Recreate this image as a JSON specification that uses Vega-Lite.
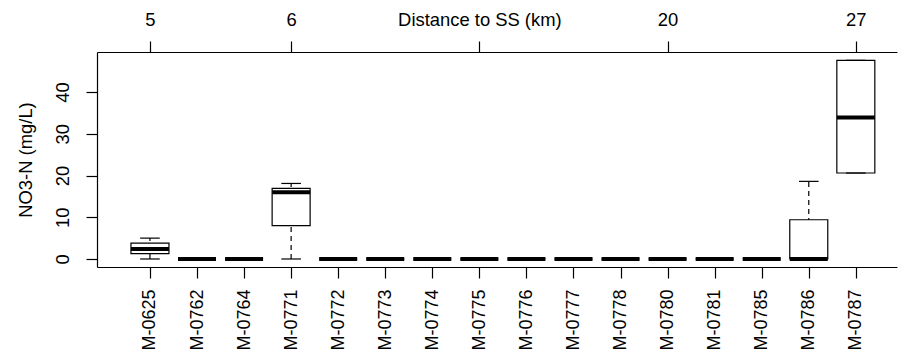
{
  "$schema": "https://vega.github.io/schema/vega-lite/v6.json",
  "width": 800,
  "height": 215,
  "autosize": {"type": "none"},
  "padding": {"left": 97, "top": 52, "right": 1, "bottom": 84},
  "config": {
    "view": {"stroke": null},
    "font": "Liberation Sans",
    "tick": {"opacity": 1},
    "axis": {
      "domainColor": "#000",
      "tickColor": "#000",
      "labelColor": "#000",
      "titleColor": "#000",
      "labelFontSize": 18.4,
      "titleFontSize": 18.4,
      "titleFontWeight": "normal",
      "labelFont": "Liberation Sans",
      "titleFont": "Liberation Sans",
      "tickSize": 11,
      "grid": false,
      "domainWidth": 1.2,
      "tickWidth": 1.2
    }
  },
  "data": {
    "values": [
      {"site": "M-0625", "lo": 0, "q1": 1.3, "med": 2.4, "q3": 3.8, "hi": 5.0},
      {"site": "M-0762", "lo": 0, "q1": 0, "med": 0, "q3": 0, "hi": 0},
      {"site": "M-0764", "lo": 0, "q1": 0, "med": 0, "q3": 0, "hi": 0},
      {"site": "M-0771", "lo": 0, "q1": 8.0, "med": 16.0, "q3": 16.9, "hi": 18.1},
      {"site": "M-0772", "lo": 0, "q1": 0, "med": 0, "q3": 0, "hi": 0},
      {"site": "M-0773", "lo": 0, "q1": 0, "med": 0, "q3": 0, "hi": 0},
      {"site": "M-0774", "lo": 0, "q1": 0, "med": 0, "q3": 0, "hi": 0},
      {"site": "M-0775", "lo": 0, "q1": 0, "med": 0, "q3": 0, "hi": 0},
      {"site": "M-0776", "lo": 0, "q1": 0, "med": 0, "q3": 0, "hi": 0},
      {"site": "M-0777", "lo": 0, "q1": 0, "med": 0, "q3": 0, "hi": 0},
      {"site": "M-0778", "lo": 0, "q1": 0, "med": 0, "q3": 0, "hi": 0},
      {"site": "M-0780", "lo": 0, "q1": 0, "med": 0, "q3": 0, "hi": 0},
      {"site": "M-0781", "lo": 0, "q1": 0, "med": 0, "q3": 0, "hi": 0},
      {"site": "M-0785", "lo": 0, "q1": 0, "med": 0, "q3": 0, "hi": 0},
      {"site": "M-0786", "lo": 0, "q1": 0, "med": 0, "q3": 9.4, "hi": 18.6},
      {"site": "M-0787", "lo": 20.6, "q1": 20.6, "med": 33.9, "q3": 47.6, "hi": 47.6}
    ]
  },
  "encoding": {
    "x": {"field": "site", "type": "nominal", "sort": null, "axis": null,
          "scale": {"type": "point", "padding": 1.016, "align": 0.5626}}
  },
  "layer": [
    {
      "mark": {"type": "rule", "strokeDash": [5, 4], "color": "#000", "strokeWidth": 1.2},
      "encoding": {
        "x": {"field": "site", "type": "nominal", "sort": null,
              "axis": {"orient": "bottom", "title": null, "labelAngle": 270, "labelPadding": 11, "labelFontSize": 18}},
        "y": {"field": "lo", "type": "quantitative", "title": "NO3-N (mg/L)",
              "scale": {"domain": [-1.92, 49.6], "nice": false, "zero": false},
              "axis": {"values": [0, 10, 20, 30, 40], "labelAngle": 270, "labelPadding": 14, "titlePadding": 18}},
        "y2": {"field": "hi"}
      }
    },
    {
      "mark": {"type": "bar", "size": 38, "fill": "#fff", "stroke": "#000", "strokeWidth": 1.2, "opacity": 1},
      "encoding": {
        "x": {"field": "site", "type": "nominal", "sort": null,
              "axis": {"orient": "top", "title": null, "labelAngle": 0, "labelPadding": 12,
                       "values": ["M-0625", "M-0771", "M-0775", "M-0780", "M-0787"],
                       "labelExpr": "datum.value == 'M-0625' ? '5' : datum.value == 'M-0771' ? '6' : datum.value == 'M-0775' ? 'Distance to SS (km)' : datum.value == 'M-0780' ? '20' : '27'"}},
        "y": {"field": "q1", "type": "quantitative", "title": "NO3-N (mg/L)"},
        "y2": {"field": "q3"}
      }
    },
    {
      "mark": {"type": "tick", "size": 19.6, "thickness": 1.2, "color": "#000", "opacity": 1},
      "encoding": {"y": {"field": "lo", "type": "quantitative", "title": "NO3-N (mg/L)"}}
    },
    {
      "mark": {"type": "tick", "size": 19.6, "thickness": 1.2, "color": "#000", "opacity": 1},
      "encoding": {"y": {"field": "hi", "type": "quantitative", "title": "NO3-N (mg/L)"}}
    },
    {
      "mark": {"type": "tick", "size": 38, "thickness": 4, "color": "#000", "opacity": 1},
      "encoding": {"y": {"field": "med", "type": "quantitative", "title": "NO3-N (mg/L)"}}
    }
  ],
  "resolve": {"axis": {"x": "independent"}}
}
